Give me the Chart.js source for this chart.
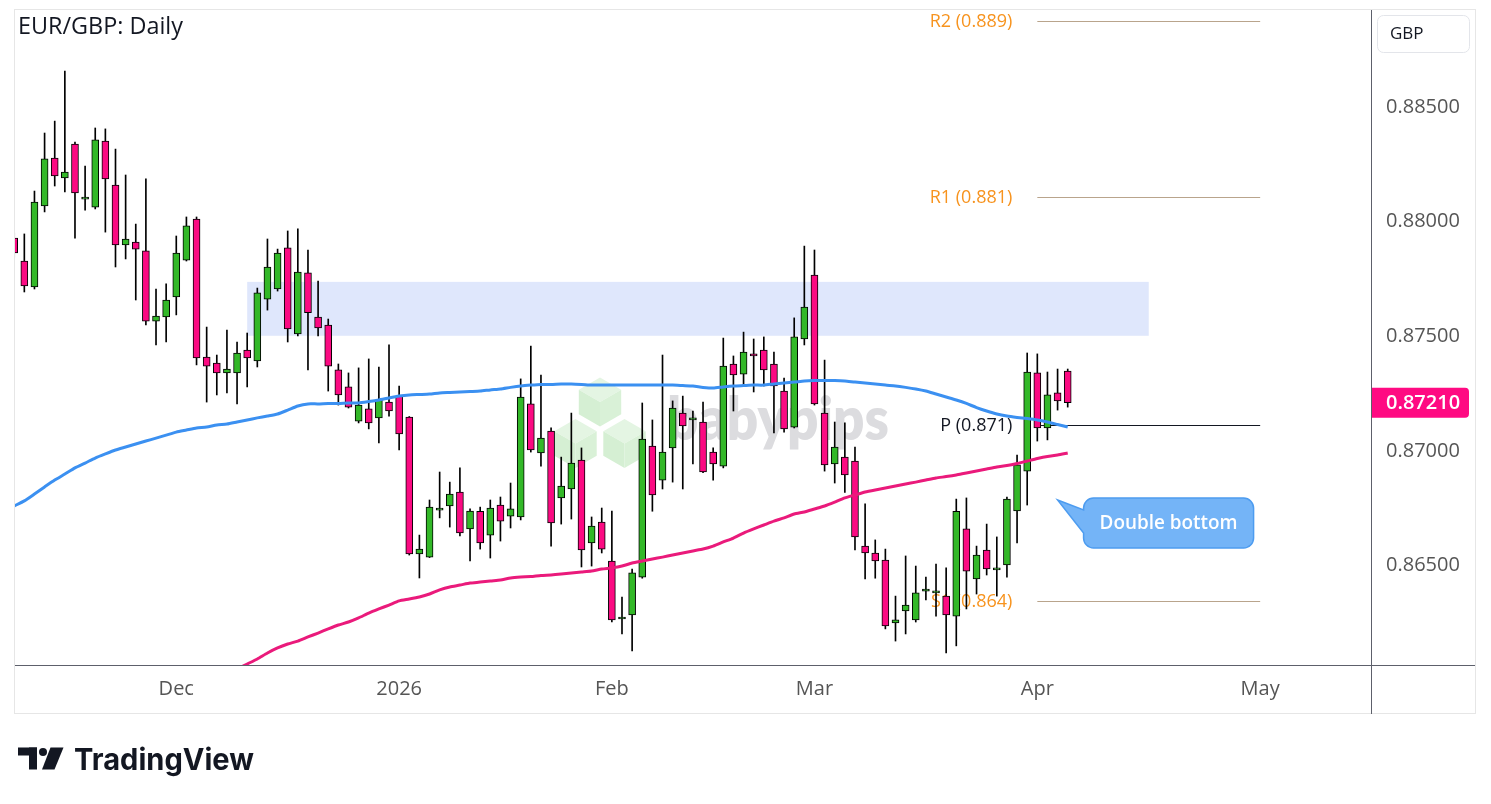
<!DOCTYPE html>
<html>
<head>
<meta charset="utf-8">
<script src="https://cdn.jsdelivr.net/npm/chart.js@4.4.1/dist/chart.umd.min.js"></script>
<style>
html,body{margin:0;padding:0;background:#ffffff;}
canvas{display:block;}
</style>
</head>
<body>
<canvas id="c" width="1491" height="804"></canvas>
<script>
// ---------------- DATA ----------------
const chartTitle = 'EUR/GBP: Daily';
const firstDate = '2025-11-07';
const lastAxisDate = '2026-06-12';
const holidays = ['2025-12-25', '2026-01-01'];
const monthTickLabels = {'2025-12':'Dec','2026-01':'2026','2026-02':'Feb','2026-03':'Mar','2026-04':'Apr','2026-05':'May'};

const opens = [0.87928,0.87828,0.87715,0.88068,0.88277,0.88190,0.88338,0.88098,0.88063,0.88351,
0.88159,0.87898,0.87911,0.87872,0.87566,0.87584,0.87671,0.87832,0.88011,0.87409,
0.87383,0.87340,0.87340,0.87440,0.87392,0.87662,0.87706,0.87885,0.87510,0.87776,
0.87584,0.87549,0.87353,0.87279,0.87130,0.87183,0.87144,0.87213,0.87239,0.87148,
0.86551,0.86537,0.86742,0.86760,0.86821,0.86660,0.86737,0.86633,0.86764,0.86716,
0.86712,0.87205,0.86991,0.87087,0.86795,0.86834,0.86960,0.86599,0.86690,0.86520,
0.86267,0.86285,0.86449,0.87021,0.86873,0.87013,0.87165,0.87135,0.87126,0.86995,
0.86934,0.87379,0.87335,0.87423,0.87440,0.87379,0.87261,0.87104,0.87488,0.87767,
0.87165,0.86943,0.86973,0.86956,0.86585,0.86555,0.86524,0.86250,0.86302,0.86263,
0.86389,0.86381,0.86367,0.86280,0.86660,0.86442,0.86568,0.86481,0.86503,0.86738,
0.86912,0.87340,0.87100,0.87253,0.87348];
const highs = [0.87950,0.87946,0.88133,0.88386,0.88438,0.88656,0.88347,0.88242,0.88408,0.88404,
0.88316,0.88203,0.87989,0.88186,0.87706,0.87728,0.87937,0.88020,0.88020,0.87540,
0.87418,0.87527,0.87475,0.87514,0.87710,0.87924,0.87880,0.87959,0.87968,0.87876,
0.87741,0.87575,0.87379,0.87340,0.87362,0.87401,0.87366,0.87462,0.87283,0.87150,
0.86633,0.86786,0.86908,0.86864,0.86926,0.86747,0.86755,0.86786,0.86799,0.86860,
0.87314,0.87457,0.87331,0.87101,0.86973,0.87165,0.87013,0.86712,0.86751,0.86738,
0.86363,0.86485,0.87209,0.87135,0.87418,0.87218,0.87239,0.87174,0.87213,0.87013,
0.87492,0.87414,0.87518,0.87488,0.87497,0.87431,0.87318,0.87580,0.87893,0.87876,
0.87396,0.87126,0.87122,0.87017,0.86769,0.86612,0.86572,0.86367,0.86542,0.86498,
0.86450,0.86507,0.86490,0.86790,0.86795,0.86585,0.86681,0.86625,0.86799,0.86982,
0.87427,0.87423,0.87344,0.87357,0.87357];
const lows = [0.87845,0.87693,0.87706,0.88042,0.88155,0.88129,0.87928,0.88050,0.88055,0.87954,
0.87802,0.87837,0.87658,0.87549,0.87462,0.87475,0.87593,0.87828,0.87375,0.87213,
0.87244,0.87253,0.87205,0.87279,0.87366,0.87614,0.87697,0.87475,0.87501,0.87353,
0.87501,0.87261,0.87200,0.87187,0.87122,0.87096,0.87035,0.87152,0.87004,0.86546,
0.86446,0.86535,0.86708,0.86668,0.86629,0.86520,0.86572,0.86533,0.86607,0.86664,
0.86699,0.86995,0.86934,0.86585,0.86681,0.86703,0.86494,0.86498,0.86555,0.86254,
0.86202,0.86128,0.86445,0.86737,0.86834,0.86864,0.86834,0.86943,0.86905,0.86873,
0.86926,0.87174,0.87287,0.87257,0.87283,0.87078,0.87082,0.87100,0.87462,0.87200,
0.86912,0.86860,0.86819,0.86568,0.86442,0.86445,0.86224,0.86171,0.86202,0.86254,
0.86350,0.86280,0.86119,0.86150,0.86311,0.86376,0.86459,0.86367,0.86450,0.86599,
0.86764,0.87043,0.87048,0.87178,0.87191];
const closes = [0.87863,0.87719,0.88085,0.88273,0.88199,0.88216,0.88125,0.88100,0.88356,0.88186,
0.87898,0.87924,0.87880,0.87566,0.87588,0.87658,0.87863,0.87981,0.87405,0.87370,
0.87340,0.87357,0.87427,0.87405,0.87689,0.87802,0.87863,0.87532,0.87780,0.87603,
0.87536,0.87370,0.87244,0.87191,0.87200,0.87122,0.87222,0.87174,0.87074,0.86551,
0.86572,0.86755,0.86744,0.86812,0.86642,0.86738,0.86599,0.86751,0.86694,0.86747,
0.87235,0.87004,0.87056,0.86686,0.86847,0.86947,0.86568,0.86672,0.86572,0.86263,
0.86276,0.86468,0.87052,0.86808,0.86995,0.87187,0.87109,0.87144,0.86908,0.86943,
0.87370,0.87331,0.87431,0.87414,0.87353,0.87283,0.87096,0.87497,0.87627,0.87205,
0.86939,0.87017,0.86895,0.86625,0.86555,0.86520,0.86237,0.86263,0.86328,0.86381,
0.86398,0.86389,0.86285,0.86737,0.86476,0.86546,0.86485,0.86490,0.86790,0.86939,
0.87344,0.87100,0.87244,0.87218,0.87210];

// moving averages (blue = 100, pink = 200)
const sma100 = [0.86760,0.86782,0.86812,0.86843,0.86873,0.86899,0.86926,0.86947,0.86969,0.86987,
0.87004,0.87017,0.87030,0.87043,0.87056,0.87069,0.87082,0.87091,0.87100,0.87104,
0.87113,0.87117,0.87126,0.87135,0.87144,0.87152,0.87161,0.87178,0.87196,0.87205,
0.87205,0.87207,0.87207,0.87209,0.87209,0.87215,0.87222,0.87231,0.87239,0.87244,
0.87246,0.87248,0.87253,0.87255,0.87257,0.87259,0.87261,0.87266,0.87270,0.87277,
0.87283,0.87287,0.87290,0.87290,0.87292,0.87292,0.87290,0.87287,0.87287,0.87287,
0.87287,0.87287,0.87287,0.87287,0.87287,0.87287,0.87285,0.87283,0.87277,0.87274,
0.87279,0.87283,0.87285,0.87287,0.87287,0.87292,0.87296,0.87300,0.87305,0.87307,
0.87307,0.87307,0.87305,0.87300,0.87296,0.87292,0.87287,0.87283,0.87277,0.87270,
0.87261,0.87248,0.87235,0.87222,0.87207,0.87189,0.87174,0.87161,0.87152,0.87146,
0.87141,0.87135,0.87126,0.87115,0.87104];
const sma200 = [null,null,null,null,null,null,null,null,null,null,
null,null,null,null,null,null,null,null,null,null,
null,null,0.86049,0.86071,0.86093,0.86119,0.86141,0.86158,0.86171,0.86189,
0.86206,0.86224,0.86241,0.86254,0.86272,0.86293,0.86311,0.86328,0.86346,0.86354,
0.86363,0.86376,0.86394,0.86407,0.86415,0.86424,0.86428,0.86433,0.86437,0.86446,
0.86450,0.86452,0.86457,0.86459,0.86463,0.86468,0.86472,0.86476,0.86485,0.86490,
0.86498,0.86511,0.86520,0.86529,0.86537,0.86546,0.86555,0.86564,0.86572,0.86585,
0.86603,0.86620,0.86642,0.86660,0.86677,0.86694,0.86708,0.86725,0.86734,0.86747,
0.86760,0.86777,0.86795,0.86808,0.86821,0.86830,0.86838,0.86847,0.86856,0.86864,
0.86873,0.86882,0.86888,0.86895,0.86904,0.86912,0.86921,0.86930,0.86936,0.86945,
0.86956,0.86967,0.86976,0.86982,0.86991];

const priceTicks = [0.865, 0.870, 0.875, 0.880, 0.885];
const pivotNames = ['R2', 'R1', 'P', 'S1'];
const pivotLevels = [0.88874, 0.88107, 0.87113, 0.86346];
const pivotLabelValues = ['0.889', '0.881', '0.871', '0.864'];
const pivotFrom = '2026-04-01', pivotTo = '2026-05-01';
const zoneFrom = '2025-12-10', zoneTo = '2026-04-16';
const zoneLow = 0.87502, zoneHigh = 0.87737;
const calloutText = 'Double bottom';
const calloutDate = '2026-04-03', calloutPrice = 0.86786;
const currencyLabel = 'GBP';
const brandText = 'TradingView';
const watermarkText = 'babypips';
const viewMin = 0.079, viewMax = 133.94;       // visible index window
const priceMin = 0.860666, priceMax = 0.889224; // visible price window

// ---------------- BUILD ----------------
function tradingDays(from, to, skip) {
  const out = [];
  const d = new Date(from + 'T00:00:00Z');
  const end = new Date(to + 'T00:00:00Z');
  while (d <= end) {
    const wd = d.getUTCDay();
    const s = d.toISOString().slice(0, 10);
    if (wd !== 0 && wd !== 6 && !skip.includes(s)) out.push(s);
    d.setUTCDate(d.getUTCDate() + 1);
  }
  return out;
}
const dates = tradingDays(firstDate, lastAxisDate, holidays);
const idxOf = d => dates.indexOf(d);
const monthTicks = [];
dates.forEach((d, i) => {
  const key = d.slice(0, 7);
  const prev = i > 0 ? dates[i - 1].slice(0, 7) : null;
  if (key !== prev && monthTickLabels[key]) monthTicks.push({ idx: i, label: monthTickLabels[key] });
});
const tickLabelAt = {};
monthTicks.forEach(t => { tickLabelAt[t.idx] = t.label; });

const UP = '#33b828', DOWN = '#fb0a82';
const N = closes.length;
const wickData = [], bodyData = [], bodyColors = [];
for (let i = 0; i < N; i++) {
  wickData.push({ x: i, y: [lows[i], highs[i]] });
  bodyData.push({ x: i, y: [opens[i], closes[i]] });
  bodyColors.push(closes[i] >= opens[i] ? UP : DOWN);
}
const ma100Data = sma100.map((v, i) => ({ x: i, y: v }));
const ma200Data = sma200.map((v, i) => ({ x: i, y: v }));

function fitText(ctx, text, x, y, width, font, align) {
  ctx.save();
  ctx.font = font;
  const w = ctx.measureText(text).width;
  ctx.translate(x, y);
  ctx.scale(width / w, 1);
  ctx.textAlign = align || 'left';
  ctx.fillText(text, 0, 0);
  ctx.restore();
}

function drawCube(ctx, cx, cy, r) {
  const hw = r * Math.cos(Math.PI / 6);
  const T = [cx, cy - r], UR = [cx + hw, cy - r / 2], LR = [cx + hw, cy + r / 2],
        B = [cx, cy + r], LL = [cx - hw, cy + r / 2], UL = [cx - hw, cy - r / 2], C = [cx, cy];
  const face = (pts, col) => {
    ctx.beginPath(); ctx.moveTo(pts[0][0], pts[0][1]);
    for (let k = 1; k < pts.length; k++) ctx.lineTo(pts[k][0], pts[k][1]);
    ctx.closePath(); ctx.fillStyle = col; ctx.fill();
  };
  face([T, UR, C, UL], '#e4f5e3');
  face([UL, C, B, LL], '#d5efd3');
  face([C, UR, LR, B], '#d9f1d7');
}

const zeroPad = s => { s.paddingTop = 0; s.paddingBottom = 0; s.paddingLeft = 0; s.paddingRight = 0; };

const deco = {
  id: 'deco',
  beforeDatasetsDraw(chart) {
    const { ctx, chartArea: a, scales: { x, y } } = chart;
    ctx.save();
    ctx.beginPath(); ctx.rect(a.left, a.top, a.right - a.left, a.bottom - a.top); ctx.clip();
    // zone
    const zx0 = x.getPixelForValue(idxOf(zoneFrom)), zx1 = x.getPixelForValue(idxOf(zoneTo));
    const zy0 = y.getPixelForValue(zoneHigh), zy1 = y.getPixelForValue(zoneLow);
    ctx.fillStyle = '#dfe7fc';
    ctx.fillRect(zx0, zy0, zx1 - zx0, zy1 - zy0);
    // watermark
    drawCube(ctx, 600, 402, 24.5);
    drawCube(ctx, 575.5, 443.5, 24.5);
    drawCube(ctx, 624.5, 443.5, 24.5);
    ctx.fillStyle = '#dcdcdf';
    fitText(ctx, watermarkText, 667, 440, 222, '800 60px Lato', 'left');
    // pivots
    const px0 = x.getPixelForValue(idxOf(pivotFrom)), px1 = x.getPixelForValue(idxOf(pivotTo));
    pivotNames.forEach((n, k) => {
      const py = Math.round(y.getPixelForValue(pivotLevels[k])) + 0.5;
      const isP = n === 'P';
      ctx.strokeStyle = isP ? '#131722' : '#b9a48c';
      ctx.lineWidth = 1;
      ctx.beginPath(); ctx.moveTo(px0, py); ctx.lineTo(px1, py); ctx.stroke();
      ctx.fillStyle = isP ? '#131722' : '#f7931e';
      ctx.font = '18px "Open Sans"';
      ctx.textAlign = 'right'; ctx.textBaseline = 'middle';
      ctx.fillText(n + ' (' + pivotLabelValues[k] + ')', px0 - 25, py);
    });
    ctx.restore();
  },
  afterDatasetsDraw(chart) {
    const { ctx, scales: { x, y } } = chart;
    const tx = x.getPixelForValue(idxOf(calloutDate)), ty = y.getPixelForValue(calloutPrice);
    const bx = tx + 26, by = ty - 2, bw = 170, bh = 50, r = 10;
    ctx.save();
    ctx.beginPath();
    ctx.moveTo(bx + r, by);
    ctx.lineTo(bx + bw - r, by);
    ctx.arcTo(bx + bw, by, bx + bw, by + r, r);
    ctx.lineTo(bx + bw, by + bh - r);
    ctx.arcTo(bx + bw, by + bh, bx + bw - r, by + bh, r);
    ctx.lineTo(bx + r, by + bh);
    ctx.arcTo(bx, by + bh, bx, by + bh - r, r);
    ctx.lineTo(bx, ty + 33);
    ctx.lineTo(tx, ty);
    ctx.lineTo(bx, ty + 10);
    ctx.lineTo(bx, by + r);
    ctx.arcTo(bx, by, bx + r, by, r);
    ctx.closePath();
    ctx.fillStyle = '#74b4f7'; ctx.fill();
    ctx.strokeStyle = '#4d9cf0'; ctx.lineWidth = 1.5; ctx.stroke();
    ctx.fillStyle = '#ffffff'; ctx.textBaseline = 'middle';
    fitText(ctx, calloutText, bx + (bw - 138) / 2, by + bh / 2 + 1, 138, '600 19px "Open Sans"', 'left');
    ctx.restore();
  },
  afterDraw(chart) {
    const { ctx, chartArea: a, scales: { y } } = chart;
    ctx.save();
    // frame
    ctx.strokeStyle = '#e6e6e6'; ctx.lineWidth = 1;
    ctx.strokeRect(14.5, 9.5, 1461, 704);
    // axis lines
    ctx.strokeStyle = '#5d606b';
    ctx.beginPath(); ctx.moveTo(a.left, Math.round(a.bottom) + 0.5); ctx.lineTo(1475, Math.round(a.bottom) + 0.5); ctx.stroke();
    ctx.beginPath(); ctx.moveTo(Math.round(a.right) + 0.5, a.top); ctx.lineTo(Math.round(a.right) + 0.5, 714); ctx.stroke();
    // last price label
    const last = closes[N - 1];
    const ly = y.getPixelForValue(last);
    ctx.fillStyle = '#ff0a82';
    ctx.beginPath();
    ctx.roundRect(a.right + 1, ly - 15, 97, 30, [0, 4, 4, 0]);
    ctx.fill();
    ctx.fillStyle = '#ffffff'; ctx.font = '600 20px "Open Sans"';
    ctx.textAlign = 'left'; ctx.textBaseline = 'middle';
    ctx.fillText(last.toFixed(5), a.right + 15, ly + 1);
    // currency box
    ctx.strokeStyle = '#e3e5ea'; ctx.lineWidth = 1;
    ctx.beginPath(); ctx.roundRect(1377.5, 15.5, 92, 37, 6); ctx.stroke();
    ctx.fillStyle = '#131722'; ctx.font = '17px "Open Sans"';
    ctx.textAlign = 'left'; ctx.textBaseline = 'middle';
    ctx.fillText(currencyLabel, 1390, 34);
    // title
    ctx.fillStyle = '#131722'; ctx.textBaseline = 'alphabetic';
    fitText(ctx, chartTitle, 18, 34, 165, '24px "Open Sans"', 'left');
    // brand logo
    ctx.fillStyle = '#131722';
    ctx.fillRect(18, 747.5, 19, 8);
    ctx.fillRect(29, 747.5, 8, 22);
    ctx.beginPath(); ctx.arc(43, 752, 4, 0, Math.PI * 2); ctx.fill();
    ctx.beginPath();
    ctx.moveTo(50.5, 747.5); ctx.lineTo(63.5, 747.5); ctx.lineTo(54.5, 769.5); ctx.lineTo(42, 769.5);
    ctx.closePath(); ctx.fill();
    fitText(ctx, brandText, 74, 769.5, 180, '700 30px Inter', 'left');
    ctx.restore();
  }
};

Chart.defaults.font.family = "'Open Sans', sans-serif";

new Chart(document.getElementById('c'), {
  type: 'bar',
  data: {
    datasets: [
      { type: 'line', label: 'SMA100', data: ma100Data, borderColor: '#3b90f1', borderWidth: 3, pointRadius: 0, tension: 0.2, order: 0 },
      { type: 'line', label: 'SMA200', data: ma200Data, borderColor: '#ea1a7b', borderWidth: 3, pointRadius: 0, tension: 0.2, order: 0 },
      { type: 'bar', label: 'body', data: bodyData, backgroundColor: bodyColors, borderColor: '#000000', borderWidth: 1, borderSkipped: false, barThickness: 7, minBarLength: 2, grouped: false, order: 1 },
      { type: 'bar', label: 'wick', data: wickData, backgroundColor: '#000000', borderWidth: 0, barThickness: 1, grouped: false, order: 2 }
    ]
  },
  options: {
    responsive: false,
    animation: false,
    devicePixelRatio: 1,
    layout: { padding: { left: 15, right: 15, top: 10, bottom: 90 } },
    plugins: { legend: { display: false }, tooltip: { enabled: false } },
    scales: {
      x: {
        type: 'linear', min: viewMin, max: viewMax, bounds: 'data', offset: false,
        grid: { display: false, drawTicks: false }, border: { display: false },
        afterBuildTicks: s => { s.ticks = monthTicks.map(t => ({ value: t.idx })); },
        afterFit: s => { s.height = 49; zeroPad(s); },
        ticks: { autoSkip: false, maxRotation: 0, padding: 12, color: '#555555', font: { size: 20 },
                 callback: v => tickLabelAt[v] || '' }
      },
      y: {
        type: 'linear', position: 'right', min: priceMin, max: priceMax, bounds: 'data',
        grid: { display: false, drawTicks: false }, border: { display: false },
        afterBuildTicks: s => { s.ticks = priceTicks.map(v => ({ value: v })); },
        afterFit: s => { s.width = 105; zeroPad(s); },
        ticks: { padding: 15, color: '#555555', font: { size: 20 }, callback: v => v.toFixed(5) }
      }
    }
  },
  plugins: [deco]
});
</script>
</body>
</html>
